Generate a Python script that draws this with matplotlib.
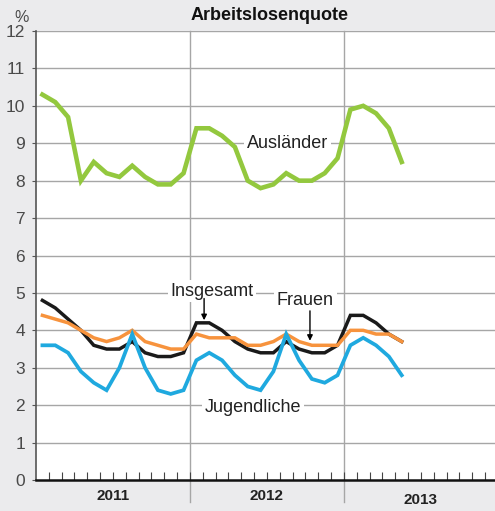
import numpy as np
import matplotlib.pyplot as plt

plt.rcParams['font.family'] = ['Liberation Sans', 'DejaVu Sans']

# monthly unemployment rates (%), Jan 2011 .. May 2013
auslaender = [10.3, 10.1, 9.7, 8.0, 8.5, 8.2, 8.1, 8.4, 8.1, 7.9, 7.9, 8.2,
              9.4, 9.4, 9.2, 8.9, 8.0, 7.8, 7.9, 8.2, 8.0, 8.0, 8.2, 8.6,
              9.9, 10.0, 9.8, 9.4, 8.5]
insgesamt = [4.8, 4.6, 4.3, 4.0, 3.6, 3.5, 3.5, 3.7, 3.4, 3.3, 3.3, 3.4,
             4.2, 4.2, 4.0, 3.7, 3.5, 3.4, 3.4, 3.7, 3.5, 3.4, 3.4, 3.6,
             4.4, 4.4, 4.2, 3.9, 3.7]
frauen = [4.4, 4.3, 4.2, 4.0, 3.8, 3.7, 3.8, 4.0, 3.7, 3.6, 3.5, 3.5,
          3.9, 3.8, 3.8, 3.8, 3.6, 3.6, 3.7, 3.9, 3.7, 3.6, 3.6, 3.6,
          4.0, 4.0, 3.9, 3.9, 3.7]
jugendliche = [3.6, 3.6, 3.4, 2.9, 2.6, 2.4, 3.0, 3.9, 3.0, 2.4, 2.3, 2.4,
               3.2, 3.4, 3.2, 2.8, 2.5, 2.4, 2.9, 3.9, 3.2, 2.7, 2.6, 2.8,
               3.6, 3.8, 3.6, 3.3, 2.8]
years = ['2011', '2012', '2013']

bg = '#ebebed'
grid_col = '#a6a6a6'

fig = plt.figure(figsize=(4.95, 5.11), dpi=100, facecolor=bg)
ax = fig.add_axes([36 / 495, 31 / 511, 1 - 36 / 495, 449 / 511])
ax.set_facecolor('white')

months = np.arange(len(auslaender)) + 0.5
ax.set_xlim(0, 35.77)
ax.set_ylim(0, 12)

for y in range(1, 13):
    ax.axhline(y, color=grid_col, lw=1.0, zorder=1)
for x in [12, 24]:
    ax.axvline(x, ymin=-0.05, ymax=1, color=grid_col, lw=1.0, zorder=1, clip_on=False)

ax.plot(months, auslaender, color='#93c83e', lw=3.3, zorder=3, solid_joinstyle='miter')
ax.plot(months, frauen, color='#f7933d', lw=2.5, zorder=4, solid_joinstyle='miter')
ax.plot(months, insgesamt, color='#1a1a1a', lw=2.5, zorder=3, solid_joinstyle='miter')
ax.plot(months, jugendliche, color='#1fa9df', lw=2.7, zorder=5, solid_joinstyle='miter')

box = dict(facecolor='white', edgecolor='none', pad=2)
fs = 13
lab_col = '#222222'
ax.text(19.6, 9.0, 'Ausländer', fontsize=fs, ha='center', va='center', bbox=box, zorder=6, color=lab_col)
ax.text(13.7, 5.05, 'Insgesamt', fontsize=fs, ha='center', va='center', bbox=box, zorder=6, color=lab_col)
ax.text(21.0, 4.8, 'Frauen', fontsize=fs, ha='center', va='center', bbox=box, zorder=6, color=lab_col)
ax.text(16.9, 1.95, 'Jugendliche', fontsize=fs, ha='center', va='center', bbox=box, zorder=6, color=lab_col)

arrow = dict(arrowstyle='-|>', color='black', lw=1.0, mutation_scale=8, shrinkA=0, shrinkB=0)
ax.annotate('', xy=(13.1, 4.27), xytext=(13.1, 4.85), arrowprops=arrow, zorder=7)
ax.annotate('', xy=(21.35, 3.72), xytext=(21.35, 4.52), arrowprops=arrow, zorder=7)

ax.set_yticks(range(0, 13))
ax.set_yticklabels([str(v) for v in range(0, 13)], fontsize=12.5, color='#4a4a4a')
ax.tick_params(axis='y', length=3, color='#555555', pad=5)
ax.set_xticks(np.arange(1, 36))
ax.set_xticklabels([])
ax.tick_params(axis='x', direction='in', length=6, width=0.8, color='#444444')

for i, yr in enumerate(years):
    ax.text(6 + 12 * i, -0.42 if i < 2 else -0.54, yr, fontsize=11, fontweight='bold',
            ha='center', va='center', color='#222222')

for side in ['top', 'right']:
    ax.spines[side].set_visible(False)
ax.spines['left'].set_color('#555555')
ax.spines['left'].set_linewidth(1.2)
ax.spines['bottom'].set_color('#111111')
ax.spines['bottom'].set_linewidth(1.8)

fig.text(270 / 495, 1 - 15 / 511, 'Arbeitslosenquote', fontsize=13, fontweight='bold',
         ha='center', va='center', color='#111111')
fig.text(22 / 495, 1 - 17 / 511, '%', fontsize=11.5, ha='center', va='center', color='#4a4a4a')

fig.savefig('out.png', dpi=100, facecolor=bg)
